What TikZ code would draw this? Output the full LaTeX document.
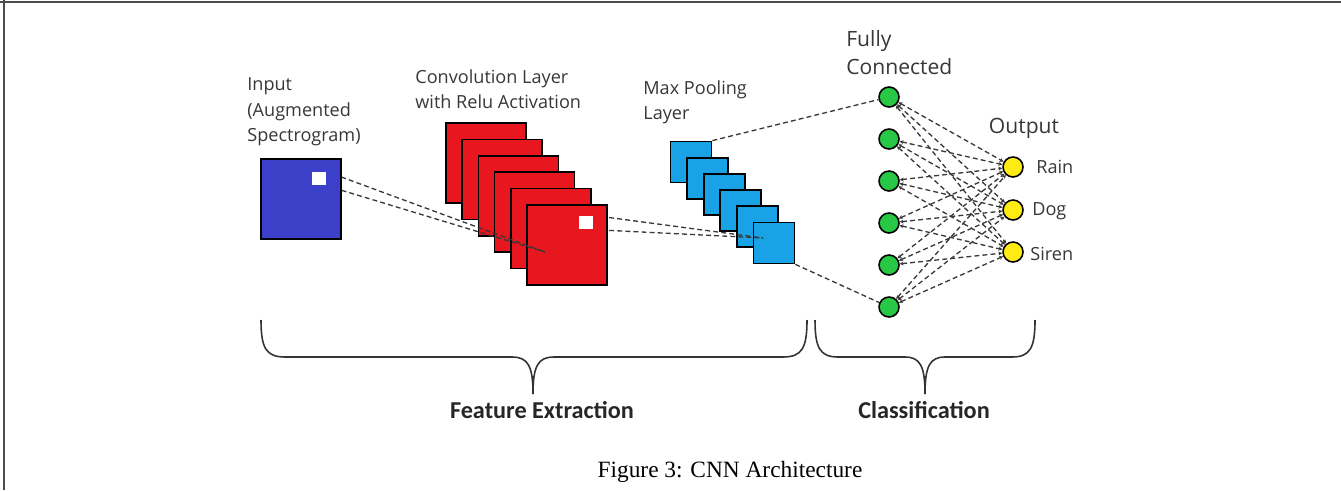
\documentclass[tikz,border=0pt]{standalone}
\usepackage{fontspec}
\setmainfont{Open Sans}
\newfontfamily\capfont{Liberation Serif}
\newfontfamily\bracefont{Carlito}
\usetikzlibrary{arrows.meta,positioning}
\definecolor{inblue}{RGB}{60,64,200}
\definecolor{convred}{RGB}{232,22,30}
\definecolor{poolblue}{RGB}{26,162,230}
\definecolor{fcgreen}{RGB}{40,200,70}
\definecolor{outyellow}{RGB}{255,235,20}
\definecolor{txtgray}{RGB}{55,55,55}
\pgfdeclarelayer{bg}
\pgfdeclarelayer{mid}
\pgfsetlayers{bg,mid,main}

\begin{document}
\begin{tikzpicture}[x=0.02cm, y=-0.02cm,
  fmap/.style={rectangle, draw=black, line width=1pt, fill=#1, minimum size=1.6cm, inner sep=0pt},
  pmap/.style={rectangle, draw=black, line width=1pt, fill=poolblue, minimum size=0.82cm, inner sep=0pt},
  patch/.style={rectangle, fill=white, minimum size=0.27cm, inner sep=0pt},
  neuron/.style={circle, draw=black, line width=0.9pt, fill=#1, minimum size=0.4cm, inner sep=0pt},
  link/.style={dash pattern=on 2.8pt off 1.8pt, line width=0.75pt, black!78},
  wire/.style={link, {Stealth[length=2.2pt,width=2.2pt]}-{Stealth[length=2.2pt,width=2.2pt]}},
  lbl/.style={font=\fontsize{10.3}{14.4}\selectfont, text=txtgray, align=left, inner sep=0pt},
  biglbl/.style={lbl, font=\fontsize{12}{16.4}\selectfont},
  grouplbl/.style={font=\bracefont\bfseries\fontsize{13.8}{16}\selectfont, text=black!85, inner sep=0pt},
  brace/.style={line width=0.9pt, black!80}
]
  \useasboundingbox (0,0) rectangle (1341,490);
  % page frame
  \draw[black!70, line width=1.1pt] (0,2) -- (1341,2);
  \draw[black!70, line width=1.1pt] (4,0) -- (4,490);

  % input spectrogram
  \node[fmap=inblue] (input) at (301,199) {};
  \node[patch] (inpatch) at (319,178.5) {};
  \node[lbl, anchor=west] (inlbl) at (247,112) {Input\\(Augmented\\Spectrogram)};

  % convolution layer
  \begin{pgfonlayer}{mid}
    \node[fmap=convred] (conv1) at (486,163) {};
    \node[fmap=convred] (conv2) at (502.2,179.4) {};
    \node[fmap=convred] (conv3) at (518.4,195.8) {};
    \node[fmap=convred] (conv4) at (534.6,212.2) {};
    \node[fmap=convred] (conv5) at (550.8,228.6) {};
    \node[fmap=convred] (conv6) at (567,245) {};
    \node[patch] (cpatch) at (586,222.5) {};
    \coordinate (convhit) at (545,252);
    \draw[link] (inpatch.north east) -- (convhit);
    \draw[link] (inpatch.south east) -- (convhit);
  \end{pgfonlayer}
  \node[lbl, anchor=west] (convlbl) at (415,89.5) {Convolution Layer\\with Relu Activation};

  % max pooling
  \begin{pgfonlayer}{bg}
    \node[pmap] (pool1) at (691,162) {};
    \node[pmap] (pool2) at (707.6,178.2) {};
    \node[pmap] (pool3) at (724.2,194.4) {};
    \node[pmap] (pool4) at (740.8,210.6) {};
    \node[pmap] (pool5) at (757.4,226.8) {};
    \node[pmap] (pool6) at (774,243) {};
    \coordinate (poolhit) at (763,238);
    \draw[link] (cpatch.north east) -- (poolhit);
    \draw[link] (cpatch.south east) -- (poolhit);
  \end{pgfonlayer}
  \node[lbl, anchor=west] (poollbl) at (643,102.5) {Max Pooling\\Layer};

  % fully connected + output
  \node[neuron=fcgreen] (fc1) at (889,97) {};
  \node[neuron=fcgreen] (fc2) at (889,139) {};
  \node[neuron=fcgreen] (fc3) at (889,181) {};
  \node[neuron=fcgreen] (fc4) at (889,223) {};
  \node[neuron=fcgreen] (fc5) at (889,265) {};
  \node[neuron=fcgreen] (fc6) at (889,307) {};
  \node[neuron=outyellow] (out1) at (1013,167) {};
  \node[neuron=outyellow] (out2) at (1013,210) {};
  \node[neuron=outyellow] (out3) at (1013,252) {};
  \node[biglbl, anchor=west] (fclbl) at (846,52.5) {Fully\\Connected};
  \node[biglbl] (outlbl) at (1024,128) {Output};
  \node[lbl, anchor=west] (rain) at (1036,167) {Rain};
  \node[lbl, anchor=west] (dog) at (1032,211) {Dog};
  \node[lbl, anchor=west] (siren) at (1030,254) {Siren};

  \draw[link] (pool1.north east) -- (fc1);
  \draw[link] (pool6.south east) -- (fc6);
  \foreach \i in {1,...,6}
    \foreach \j in {1,2,3}
      \draw[wire] (fc\i) -- (out\j);

  % braces
  \draw[brace] (261,320) .. controls (261,348) and (266,357) .. (285,357) -- (512,357)
    .. controls (528,357) and (533,366) .. (533,394);
  \draw[brace] (533,394) .. controls (533,366) and (538,357) .. (554,357) -- (783,357)
    .. controls (802,357) and (807,348) .. (807,320);
  \draw[brace] (815,320) .. controls (815,348) and (820,357) .. (838,357) -- (905,357)
    .. controls (920,357) and (925,366) .. (925,394);
  \draw[brace] (925,394) .. controls (925,366) and (930,357) .. (945,357) -- (1012,357)
    .. controls (1030,357) and (1035,348) .. (1035,320);
  \node[grouplbl] (featlbl) at (542,410) {Feature Extraction};
  \node[grouplbl] (clslbl) at (924,410) {Classification};

  \node[font=\capfont\fontsize{13.3}{16}\selectfont, inner sep=0pt] (caption) at (730,472) {Figure 3: CNN Architecture};
\end{tikzpicture}
\end{document}
